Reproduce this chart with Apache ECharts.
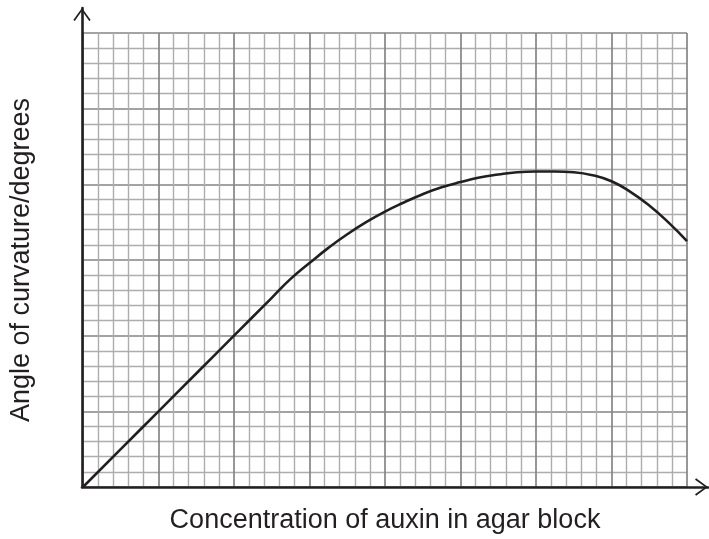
<!DOCTYPE html>
<html>
<head>
<meta charset="utf-8">
<script src="https://cdn.jsdelivr.net/npm/echarts@6/dist/echarts.min.js"></script>
<style>
  html, body { margin: 0; padding: 0; background: #fff; }
  #chart { width: 709px; height: 539px; }
</style>
</head>
<body>
<div id="chart"></div>
<script>
// concentration and angle, both read in major grid squares
const conc  = [0, 0.5, 1, 1.5, 2, 2.5, 2.75, 3.0, 3.25, 3.5, 3.75, 4.0, 4.25, 4.5, 4.75, 5.0, 5.25,
               5.5, 5.75, 6.0, 6.25, 6.5, 6.75, 7.0, 7.25, 7.5, 7.75, 8.0];
const angle = [0, 0.5, 1, 1.5, 2, 2.5, 2.75, 2.96, 3.16, 3.34, 3.50, 3.64, 3.76, 3.87, 3.96, 4.03, 4.09,
               4.13, 4.16, 4.17, 4.17, 4.16, 4.12, 4.04, 3.90, 3.72, 3.50, 3.25];
const xName = "Concentration of auxin in agar block";
const yName = "Angle of curvature/degrees";

const chart = echarts.init(document.getElementById("chart"));

const ink = "#231f20";
const majorLine = { show: true, lineStyle: { color: "#858585", width: 1.7 } };
const minorLine = { show: true, lineStyle: { color: "#adadad", width: 1.4 } };
// open chevron arrow head, drawn pointing up
const chevron = "path://M0,13 L9.5,0 L19,13 L17.4,14.2 L9.5,3 L1.6,14.2 Z";
const nameFont = { fontFamily: "Liberation Sans", fontSize: 27, color: ink };

const option = {
  animation: false,
  grid: [
    { left: 82, right: 22, top: 33, bottom: 52 }, // graph paper
    { left: 82, right: 1, top: 8, bottom: 52 }    // axes with arrows
  ],
  xAxis: [
    {
      gridIndex: 0,
      type: "value",
      min: 0,
      max: 8,
      interval: 1,
      axisLine: { show: false },
      axisTick: { show: false },
      axisLabel: { show: false },
      splitLine: majorLine,
      minorTick: { show: false, splitNumber: 5 },
      minorSplitLine: minorLine,
      name: xName,
      nameLocation: "middle",
      nameGap: 20,
      nameTextStyle: nameFont
    },
    {
      gridIndex: 1,
      type: "value",
      min: 0,
      max: 1,
      axisLine: {
        show: true,
        lineStyle: { color: ink, width: 2.6 },
        symbol: ["none", chevron],
        symbolSize: [20, 13],
        symbolOffset: [0, -6.5]
      },
      axisTick: { show: false },
      axisLabel: { show: false },
      splitLine: { show: false }
    }
  ],
  yAxis: [
    {
      gridIndex: 0,
      type: "value",
      min: 0,
      max: 6,
      interval: 1,
      axisLine: { show: false },
      axisTick: { show: false },
      axisLabel: { show: false },
      splitLine: majorLine,
      minorTick: { show: false, splitNumber: 5 },
      minorSplitLine: minorLine,
      name: yName,
      nameLocation: "middle",
      nameGap: 48,
      nameTextStyle: nameFont
    },
    {
      gridIndex: 1,
      type: "value",
      min: 0,
      max: 1,
      axisLine: {
        show: true,
        lineStyle: { color: ink, width: 2.6 },
        symbol: ["none", chevron],
        symbolSize: [20, 13],
        symbolOffset: [0, -6.5]
      },
      axisTick: { show: false },
      axisLabel: { show: false },
      splitLine: { show: false }
    }
  ],
  series: [
    {
      type: "line",
      xAxisIndex: 0,
      yAxisIndex: 0,
      data: conc.map((c, i) => [c, angle[i]]),
      smooth: 0.5,
      showSymbol: false,
      lineStyle: { color: ink, width: 2.6 },
      z: 5
    }
  ]
};

chart.setOption(option);
</script>
</body>
</html>
